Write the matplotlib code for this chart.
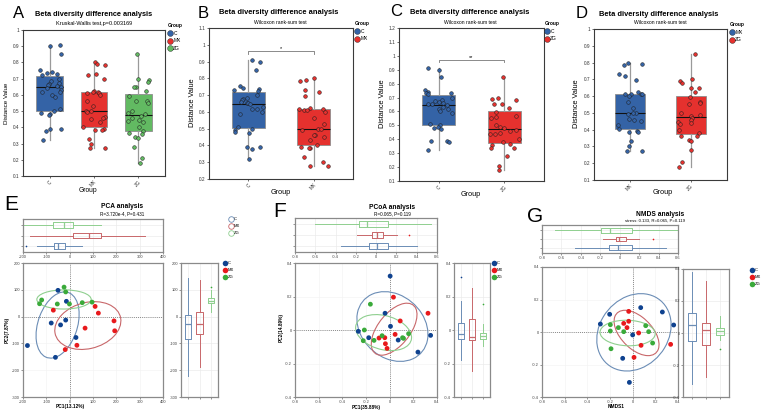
import matplotlib.pyplot as plt
import numpy as np
from matplotlib.lines import Line2D
from matplotlib.patches import Ellipse

plt.rcParams["font.family"] = ["Liberation Sans", "DejaVu Sans"]

W, H = 767, 415

# beta diversity distances per group (panels A-D)
dist_c = [0.91, 0.90, 0.85, 0.755, 0.74, 0.735, 0.73, 0.725, 0.70, 0.685,
          0.675, 0.67, 0.66, 0.655, 0.65, 0.645, 0.63, 0.62, 0.615, 0.60,
          0.59, 0.51, 0.50, 0.49, 0.48, 0.475, 0.39, 0.39, 0.38, 0.32]
dist_mx = [0.80, 0.79, 0.785, 0.73, 0.72, 0.695, 0.625, 0.615, 0.615, 0.61,
           0.61, 0.60, 0.565, 0.53, 0.50, 0.50, 0.495, 0.465, 0.46, 0.45,
           0.43, 0.405, 0.39, 0.385, 0.385, 0.33, 0.30, 0.275, 0.275]
dist_zg = [0.85, 0.70, 0.69, 0.68, 0.65, 0.65, 0.625, 0.595, 0.565, 0.56,
           0.55, 0.50, 0.49, 0.48, 0.47, 0.46, 0.445, 0.44, 0.435, 0.40,
           0.38, 0.365, 0.36, 0.34, 0.335, 0.28, 0.21, 0.18]

GROUPS = ["C", "MX", "ZG"]

# ordination scores, 8 samples per group
pca_pc1 = {"C": [-181, -50, -14, -17, -39, -79, 27, -61],
           "MX": [-70, 109, 123, 66, 190, 193, 31, -19],
           "ZG": [-24, -17, -120, -129, -53, -1, 54, 96]}
pca_pc2 = {"C": [-108, 98, 57, -13, -31, -24, -78, -152],
           "MX": [24, 38, 13, -43, -16, -53, -107, -123],
           "ZG": [110, 92, 62, 48, 47, 47, 52, 54]}
pcoa_pc1 = {"C": [0.004, -0.039, -0.265, -0.177, 0.007, 0.072, 0.239, 0.346],
            "MX": [0.032, 0.324, 0.089, 0.046, -0.09, -0.041, -0.036, -0.022],
            "ZG": [-0.163, -0.214, -0.223, -0.132, -0.064, 0.109, 0.117, 0.16]}
pcoa_pc2 = {"C": [0.322, 0.10, -0.008, -0.046, 0.022, -0.06, -0.132, -0.032],
            "MX": [0.196, 0.10, 0.054, -0.026, -0.048, -0.046, -0.082, -0.11],
            "ZG": [0.154, 0.0, -0.064, -0.062, -0.034, -0.046, -0.05, -0.022]}
nmds1 = {"C": [-0.285, -0.203, 0.071, 0.262, 0.362, 0.0, -0.088, -0.029],
         "MX": [-0.035, -0.035, -0.079, -0.05, 0.053, 0.074, 0.012, 0.335],
         "ZG": [-0.197, -0.197, -0.126, -0.079, 0.115, 0.141, 0.176, -0.191]}
nmds2 = {"C": [0.049, 0.109, 0.15, 0.123, 0.043, -0.018, -0.162, -0.31],
         "MX": [0.127, 0.066, 0.053, 0.027, -0.006, -0.082, -0.156, -0.076],
         "ZG": [0.045, 0.006, 0.027, 0.002, 0.039, 0.002, -0.068, -0.103]}

# marginal box summaries: (whisker low, q1, median, q3, whisker high, outliers)
pca_pc1_box = {"C": (-141, -69, -49, -20, 53, [-187]),
               "MX": (-170, 16, 84, 136, 321, []),
               "ZG": (-198, -73, -23, 13, 136, [])}
pca_pc2_box = {"C": (-221, -83, -29, 6, 144, []),
               "MX": (-188, -66, -29, 17, 138, []),
               "ZG": (17, 50, 57, 70, 100, [111])}
pcoa_pc1_box = {"C": (-0.345, -0.067, 0.013, 0.119, 0.404, []),
                "MX": (-0.186, -0.04, 0.01, 0.063, 0.205, [0.328]),
                "ZG": (-0.60, -0.17, -0.09, 0.116, 0.544, [])}
pcoa_pc2_box = {"C": (-0.182, -0.052, -0.022, 0.04, 0.174, [0.316]),
                "MX": (-0.242, -0.058, -0.04, 0.064, 0.25, []),
                "ZG": (-0.096, -0.056, -0.036, -0.018, 0.036, [0.154])}
nmds1_box = {"C": (-0.464, -0.11, -0.014, 0.127, 0.477, []),
             "MX": (-0.175, -0.038, -0.008, 0.065, 0.195, [0.339]),
             "ZG": (-0.663, -0.193, -0.104, 0.127, 0.6, [])}
nmds2_box = {"C": (-0.316, -0.05, 0.053, 0.122, 0.379, []),
             "MX": (-0.278, -0.074, 0.019, 0.065, 0.326, []),
             "ZG": (-0.045, -0.012, 0.01, 0.032, 0.105, [-0.1])}

BLUE, RED, GREEN = "#3463a6", "#e5312e", "#62ba62"
PT_COLORS = {"C": "#0f428f", "MX": "#e8191c", "ZG": "#3aaa3a"}
LN_COLORS = {"C": "#6b8db6", "MX": "#c8676a", "ZG": "#8fcf8f"}

fig = plt.figure(figsize=(W / 100, H / 100), dpi=100)


def px_axes(left, top, right, bottom):
    return fig.add_axes([left / W, 1 - bottom / H, (right - left) / W, (bottom - top) / H])


def ftext(x, y, s, **kw):
    fig.text(x / W, 1 - y / H, s, **kw)


def fmt(v):
    v = round(v, 6)
    return "0" if v == 0 else f"{v:g}"


def beta_panel(box, names, data, colors, ylim, yticks, width, jitter, seed, sig=None):
    ax = px_axes(*box)
    pos = np.arange(1, len(names) + 1)
    bp = ax.boxplot(data, positions=pos, widths=width, patch_artist=True,
                    showfliers=False, showcaps=False, whis=1.5)
    for patch, c in zip(bp["boxes"], colors):
        patch.set_facecolor(c)
        patch.set_edgecolor("#8e8e8e")
        patch.set_linewidth(0.6)
    for w in bp["whiskers"]:
        w.set_color("#9a9a9a")
        w.set_linewidth(0.9)
    for m in bp["medians"]:
        m.set_color("#111111")
        m.set_linewidth(0.8)
    rng = np.random.default_rng(seed)
    for p, vals, c in zip(pos, data, colors):
        xs = p + rng.uniform(-jitter, jitter, len(vals))
        ax.scatter(xs, vals, s=7, color=c, edgecolor="#1c1c1c", linewidth=0.35, zorder=3)
    if sig is not None:
        y, label = sig
        ax.plot([1, 1, 2, 2], [y - 0.012, y, y, y - 0.012], color="#777777", lw=0.6)
        ax.text(1.5, y + 0.003, label, ha="center", va="bottom", fontsize=4)
    ax.set_xlim(0.4, len(names) + 0.6)
    ax.set_ylim(*ylim)
    ax.set_yticks(yticks)
    ax.set_yticklabels([fmt(v) for v in yticks])
    ax.set_xticks(pos)
    ax.set_xticklabels(names, rotation=45, ha="right", va="top", rotation_mode="anchor")
    ax.tick_params(labelsize=3.4, length=1.5, width=0.5, pad=1, colors="#333333")
    for s in ax.spines.values():
        s.set_color("#3a3a3a")
        s.set_linewidth(0.8)
    return ax


def group_legend(x, y, names, colors, fs=3.5, ms=4.2, title="Group"):
    handles = [Line2D([], [], marker="o", ls="none", markersize=ms, markerfacecolor=c,
                      markeredgecolor="#222222", markeredgewidth=0.3) for c in colors]
    leg = fig.legend(handles, names, title=title, loc="upper left",
                     bbox_to_anchor=(x / W, 1 - y / H), frameon=False, fontsize=fs,
                     title_fontproperties={"weight": "bold", "size": fs},
                     handletextpad=0.1, labelspacing=0.55, borderpad=0,
                     handlelength=1.0, alignment="left", borderaxespad=0)
    return leg


# ---------------- top row ----------------
ftext(19, 14, "A", fontsize=12, ha="center", va="center")
ftext(94, 15, "Beta diversity difference analysis", fontsize=5.3, weight="bold", ha="center", va="center")
ftext(94, 23, "Kruskal-Wallis test,p=0.003169", fontsize=4, ha="center", va="center")
beta_panel((23, 30, 165, 176), GROUPS, [dist_c, dist_mx, dist_zg], [BLUE, RED, GREEN],
           (0.1, 1.0), np.arange(0.1, 1.01, 0.1), 0.6, 0.27, 4)
ftext(7, 103, "Distance Value", fontsize=4.5, rotation=90, ha="center", va="center")
ftext(88, 190, "Group", fontsize=4.8, ha="center", va="center")
group_legend(168, 23, GROUPS, [BLUE, RED, GREEN])

ftext(203, 13, "B", fontsize=12, ha="center", va="center")
ftext(279, 13, "Beta diversity difference analysis", fontsize=5.4, weight="bold", ha="center", va="center")
ftext(280, 23, "Wilcoxon rank-sum test", fontsize=3.6, ha="center", va="center")
beta_panel((209, 28, 353, 179), ["C", "MX"], [dist_c, dist_mx], [BLUE, RED],
           (0.2, 1.1), np.arange(0.2, 1.11, 0.1), 0.5, 0.22, 7, sig=(0.96, "*"))
ftext(193, 103, "Distance Value", fontsize=5.3, rotation=90, ha="center", va="center")
ftext(281, 193, "Group", fontsize=5.2, ha="center", va="center")
group_legend(355, 21, ["C", "MX"], [BLUE, RED])

ftext(396, 12, "C", fontsize=12, ha="center", va="center")
ftext(470, 12, "Beta diversity difference analysis", fontsize=5.4, weight="bold", ha="center", va="center")
ftext(470, 22, "Wilcoxon rank-sum test", fontsize=3.6, ha="center", va="center")
beta_panel((399, 28, 544, 181), ["C", "ZG"], [dist_c, dist_zg], [BLUE, RED],
           (0.1, 1.2), np.arange(0.1, 1.21, 0.1), 0.5, 0.22, 11, sig=(0.97, "**"))
ftext(383, 104, "Distance Value", fontsize=5.3, rotation=90, ha="center", va="center")
ftext(471, 194, "Group", fontsize=5.2, ha="center", va="center")
group_legend(545, 21, ["C", "ZG"], [BLUE, RED])

ftext(582, 13, "D", fontsize=12, ha="center", va="center")
ftext(659, 14, "Beta diversity difference analysis", fontsize=5.4, weight="bold", ha="center", va="center")
ftext(660, 22, "Wilcoxon rank-sum test", fontsize=3.6, ha="center", va="center")
beta_panel((594, 29, 727, 180), ["MX", "ZG"], [dist_mx, dist_zg], [BLUE, RED],
           (0.1, 1.0), np.arange(0.1, 1.01, 0.1), 0.5, 0.22, 19)
ftext(576, 104, "Distance Value", fontsize=5.3, rotation=90, ha="center", va="center")
ftext(663, 193, "Group", fontsize=5.2, ha="center", va="center")
group_legend(730, 22, ["MX", "ZG"], [BLUE, RED])


# ---------------- bottom row ----------------
def style_grid_axes(ax):
    for s in ax.spines.values():
        s.set_color("#8a8a8a")
        s.set_linewidth(0.9)
    ax.tick_params(labelsize=2.9, length=1.2, width=0.4, pad=1, colors="#444444")
    ax.grid(True, color="#ebebeb", lw=0.5)
    ax.set_axisbelow(True)


def draw_box(ax, box, orientation):
    stats = []
    for g in GROUPS:
        lo, q1, med, q3, hi, fl = box[g]
        stats.append(dict(whislo=lo, q1=q1, med=med, q3=q3, whishi=hi, fliers=fl))
    res = ax.bxp(stats, positions=[1, 2, 3], widths=0.55, orientation=orientation,
                 showcaps=False, patch_artist=False)
    for i, g in enumerate(GROUPS):
        c = LN_COLORS[g]
        res["boxes"][i].set(color=c, lw=0.7)
        res["medians"][i].set(color=c, lw=0.9)
        for w in res["whiskers"][2 * i:2 * i + 2]:
            w.set(color=c, lw=0.7)
        res["fliers"][i].set(marker="o", markersize=1.2, markerfacecolor=PT_COLORS[g],
                             markeredgecolor="none")
    ax.set_xlim(0.4, 3.6) if orientation == "vertical" else ax.set_ylim(0.4, 3.6)


def ordination_panel(top_box, main_box, side_box, xs, ys, xbox, ybox,
                     top_xlim, top_xticks, main_xlim, main_xticks, ylim, yticks):
    axt = px_axes(*top_box)
    draw_box(axt, xbox, "horizontal")
    axt.set_xlim(*top_xlim)
    axt.set_xticks(top_xticks)
    axt.set_xticklabels([fmt(v) for v in top_xticks])
    axt.set_yticks([1, 2, 3])
    axt.set_yticklabels([])
    axt.tick_params(axis="y", length=0)
    style_grid_axes(axt)

    ax = px_axes(*main_box)
    for g in GROUPS:
        x = np.asarray(xs[g], float)
        y = np.asarray(ys[g], float)
        ax.scatter(x, y, s=12, color=PT_COLORS[g], edgecolor="none", zorder=3)
        cov = np.cov(x, y)
        vals, vecs = np.linalg.eigh(cov)
        k = 1.5
        ang = np.degrees(np.arctan2(vecs[1, 1], vecs[0, 1]))
        ax.add_patch(Ellipse((x.mean(), y.mean()), 2 * k * np.sqrt(vals[1]),
                             2 * k * np.sqrt(vals[0]), angle=ang, fill=False,
                             edgecolor=LN_COLORS[g], lw=0.8, zorder=2))
    ax.axhline(0, color="#666666", lw=0.6, ls=(0, (1, 1.5)), zorder=1)
    ax.axvline(0, color="#666666", lw=0.6, ls=(0, (1, 1.5)), zorder=1)
    ax.set_xlim(*main_xlim)
    ax.set_xticks(main_xticks)
    ax.set_xticklabels([fmt(v) for v in main_xticks])
    ax.set_ylim(*ylim)
    ax.set_yticks(yticks)
    ax.set_yticklabels([fmt(v) for v in yticks])
    style_grid_axes(ax)
    ax.grid(True, color="#f4f4f4", lw=0.5)

    axs = px_axes(*side_box)
    draw_box(axs, ybox, "vertical")
    axs.set_ylim(*ylim)
    axs.set_yticks(yticks)
    axs.set_yticklabels([fmt(v) for v in yticks])
    axs.set_xticks([1, 2, 3])
    axs.set_xticklabels([])
    axs.tick_params(axis="x", length=0)
    style_grid_axes(axs)
    return axt, ax, axs


def filled_legend(x, y):
    handles = [Line2D([], [], marker="o", ls="none", markersize=4, markerfacecolor=PT_COLORS[g],
                      markeredgecolor="none") for g in GROUPS]
    fig.legend(handles, GROUPS, loc="upper left", bbox_to_anchor=(x / W, 1 - y / H),
               frameon=False, fontsize=3, handletextpad=0.1, labelspacing=0.75,
               borderpad=0, handlelength=1.0, borderaxespad=0)


# E: PCA
ftext(11, 205, "E", fontsize=15, ha="center", va="center")
ftext(122, 206, "PCA analysis", fontsize=4.8, weight="bold", ha="center", va="center")
ftext(122, 214, "R=3.720e-4, P=0.431", fontsize=3.3, ha="center", va="center")
e_ticks = np.arange(-200, 401, 100)
ordination_panel((23, 219, 163, 252), (23, 263, 163, 397), (181, 263, 218, 397),
                 pca_pc1, pca_pc2, pca_pc1_box, pca_pc2_box,
                 (-200, 400), e_ticks, (-200, 400), e_ticks,
                 (-300, 200), np.arange(-300, 201, 100))
ftext(70, 406, "PC1(13.12%)", fontsize=3.4, weight="bold", ha="center", va="center")
ftext(7, 330, "PC2(7.87%)", fontsize=3.4, weight="bold", rotation=90, ha="center", va="center")
hollow = [Line2D([], [], marker="o", ls="none", markersize=4, markerfacecolor="none",
                 markeredgecolor=LN_COLORS[g], markeredgewidth=0.6) for g in GROUPS]
fig.legend(hollow, GROUPS, loc="upper left", bbox_to_anchor=(229 / W, 1 - 217 / H),
           frameon=False, fontsize=3, handletextpad=0.1, labelspacing=0.75,
           borderpad=0, handlelength=1.0, borderaxespad=0)
filled_legend(223, 261)

# F: PCoA
ftext(280, 211, "F", fontsize=15, ha="center", va="center")
ftext(392, 207, "PCoA analysis", fontsize=4.8, weight="bold", ha="center", va="center")
ftext(392, 214, "R=0.065, P=0.119", fontsize=3.3, ha="center", va="center")
ordination_panel((295, 218, 437, 252), (295, 263, 437, 397), (454, 263, 490, 397),
                 pcoa_pc1, pcoa_pc2, pcoa_pc1_box, pcoa_pc2_box,
                 (-0.8, 0.6), np.arange(-0.8, 0.61, 0.2), (-0.8, 0.4),
                 np.arange(-0.8, 0.41, 0.2), (-0.4, 0.4), np.arange(-0.4, 0.41, 0.2))
ftext(366, 407, "PC1(35.88%)", fontsize=3.4, weight="bold", ha="center", va="center")
ftext(281, 327, "PC2(14.89%)", fontsize=3.4, weight="bold", rotation=90, ha="center", va="center")
filled_legend(492, 261)

# G: NMDS
ftext(535, 216, "G", fontsize=15, ha="center", va="center")
ftext(660, 214, "NMDS analysis", fontsize=4.8, weight="bold", ha="center", va="center")
ftext(655, 221, "stress: 0.133, R=0.065, P=0.119", fontsize=3.1, ha="center", va="center")
ordination_panel((542, 225, 678, 253), (542, 267, 678, 397), (683, 269, 729, 397),
                 nmds1, nmds2, nmds1_box, nmds2_box,
                 (-0.8, 0.6), np.arange(-0.8, 0.61, 0.2), (-0.8, 0.4),
                 np.arange(-0.8, 0.41, 0.2), (-0.4, 0.4), np.arange(-0.4, 0.41, 0.2))
ftext(616, 406, "NMDS1", fontsize=3.4, weight="bold", ha="center", va="center")
filled_legend(750, 268)

fig.savefig("out.png", dpi=100)
